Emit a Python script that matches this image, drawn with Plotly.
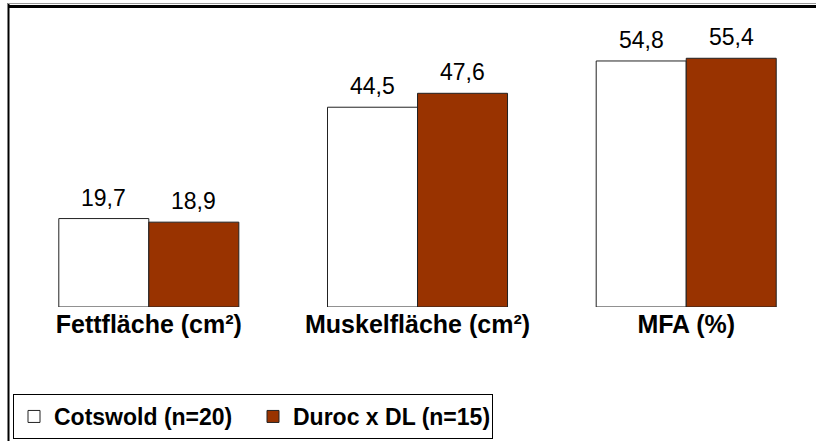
import plotly.graph_objects as go

categories = ["Fettfläche (cm²)", "Muskelfläche (cm²)", "MFA (%)"]
cotswold = [19.7, 44.5, 54.8]
duroc = [18.9, 47.6, 55.4]
series_names = ["Cotswold (n=20)", "Duroc x DL (n=15)"]
bar_colors = ["white", "#993300"]

W, H = 816, 441
L, R, T, B = 15, 0, 30, 134

fig = go.Figure()

for name, vals, col in zip(series_names, [cotswold, duroc], bar_colors):
    fig.add_trace(go.Bar(
        x=categories, y=vals, name=name,
        marker=dict(color=col, line=dict(color="#222222", width=1)),
    ))

# value labels above each bar (offset left/right of the category centre)
for vals, dx in [(cotswold, -45), (duroc, 45)]:
    for c, v in zip(categories, vals):
        fig.add_annotation(
            x=c, y=v, text=f"{v:.1f}".replace(".", ","),
            xshift=dx, yshift=6, yanchor="bottom", showarrow=False,
            font=dict(size=23, color="black"),
        )

# frame lines around the chart (paper coords reach outside the plot area)
pw = W - L - R
ph = H - T - B
def px_x(v):
    return (v - L) / pw
def px_y(v):
    return (H - B - v) / ph

fig.add_shape(type="line", xref="paper", yref="paper",
              x0=px_x(8.5), x1=px_x(8.5), y0=px_y(3), y1=px_y(H),
              line=dict(color="black", width=2))
fig.add_shape(type="line", xref="paper", yref="paper",
              x0=px_x(8), x1=px_x(W), y0=px_y(3.5), y1=px_y(3.5),
              line=dict(color="#999999", width=1))
fig.add_shape(type="line", xref="paper", yref="paper",
              x0=px_x(8), x1=px_x(W), y0=px_y(6.5), y1=px_y(6.5),
              line=dict(color="black", width=3))

fig.update_layout(
    width=W, height=H,
    margin=dict(l=L, r=R, t=T, b=B),
    barmode="group", bargap=0.33, bargroupgap=0,
    paper_bgcolor="white", plot_bgcolor="white",
    font=dict(family="Liberation Sans, Arial, sans-serif", color="black"),
    xaxis=dict(range=[-0.498, 2.483], showline=False, showgrid=False,
               ticks="", tickfont=dict(size=25, weight="bold")),
    yaxis=dict(range=[0, 61.7], visible=False),
    legend=dict(
        orientation="h", xref="container", yref="container",
        x=13 / W, y=1 - 394 / H, xanchor="left", yanchor="top",
        bordercolor="black", borderwidth=1,
        font=dict(size=23, weight="bold"),
        entrywidth=194,
    ),
)

fig.write_html("out.html", config={"displayModeBar": False},
               post_script="document.body.style.margin='0';")
